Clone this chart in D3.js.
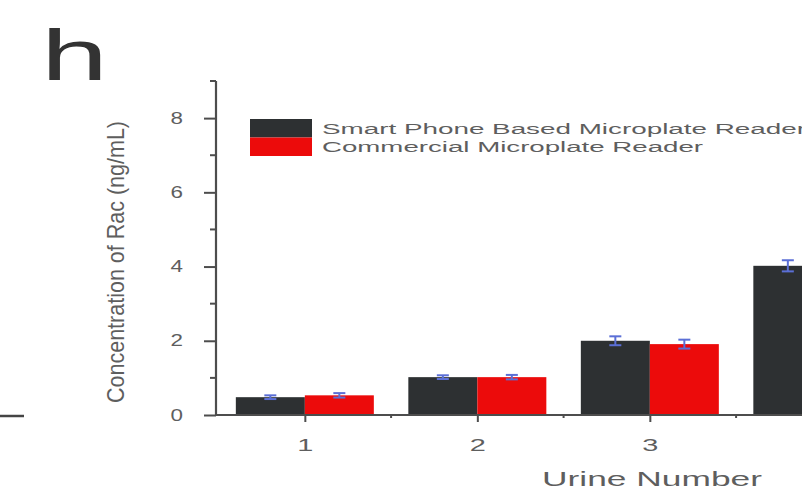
<!DOCTYPE html>
<html>
<head>
<meta charset="utf-8">
<script src="https://cdn.jsdelivr.net/npm/d3@7"></script>
<style>
  html, body { margin: 0; padding: 0; background: #fff; }
  svg { display: block; font-family: "Liberation Sans", Arial, sans-serif; }
</style>
</head>
<body>
<svg id="chart" width="802" height="490"></svg>
<script>
// Rac concentration in urine samples, two readers
const urineNumbers = [1, 2, 3, 4];
const phoneReader = [0.48, 1.02, 2.0, 4.02];
const phoneErr = [0.05, 0.05, 0.12, 0.15];
const commercialReader = [0.53, 1.02, 1.91, 4.0];
const commercialErr = [0.06, 0.06, 0.12, 0.12];
const seriesNames = ["Smart Phone Based Microplate Reader", "Commercial Microplate Reader"];
const yMajorTicks = [0, 2, 4, 6, 8];
const yMinorTicks = [1, 3, 5, 7, 9];
const xMinorTicks = [1.5, 2.5, 3.5, 4.5];

const colors = ["#2d3032", "#ec0b0b"];
const errColor = "#5b6fd6";
const axisColor = "#4d4d4d";
const textColor = "#5e5e5e";

const width = 802;
const svg = d3.select("#chart");

const originX = 216, baseY = 415;
const x = d3.scaleLinear().domain([0.485, 4.485]).range([originX, originX + 4 * 172.5]);
const y = d3.scaleLinear().domain([0, 9]).range([baseY, 81]);
const barW = x(1.4) - x(1); // width of one bar in a pair

// panel letter
svg.append("text")
  .attr("transform", "translate(41,80) scale(1.65,1)")
  .attr("font-size", 73)
  .attr("fill", "#333")
  .text("h");

// edge of the neighbouring panel's x axis
svg.append("line")
  .attr("x1", 0).attr("x2", 24)
  .attr("y1", baseY + 1).attr("y2", baseY + 1)
  .attr("stroke", "#444").attr("stroke-width", 2.5);

// bars
const series = [
  { name: seriesNames[0], values: phoneReader, errs: phoneErr, offset: -1 },
  { name: seriesNames[1], values: commercialReader, errs: commercialErr, offset: 0 }
];

series.forEach((s, si) => {
  const g = svg.append("g");
  g.selectAll("rect")
    .data(urineNumbers)
    .join("rect")
    .attr("x", (d) => x(d) + s.offset * barW)
    .attr("width", barW)
    .attr("y", (d, i) => y(s.values[i]))
    .attr("height", (d, i) => y(0) - y(s.values[i]))
    .attr("fill", colors[si]);

  // error bars
  const eb = svg.append("g")
    .attr("stroke", errColor).attr("stroke-width", 2).attr("fill", "none");
  urineNumbers.forEach((d, i) => {
    const cx = x(d) + s.offset * barW + barW / 2;
    const v = s.values[i], e = s.errs[i];
    eb.append("line").attr("x1", cx).attr("x2", cx).attr("y1", y(v + e)).attr("y2", y(v - e));
    eb.append("line").attr("x1", cx - 6).attr("x2", cx + 6).attr("y1", y(v + e)).attr("y2", y(v + e));
    eb.append("line").attr("x1", cx - 6).attr("x2", cx + 6).attr("y1", y(v - e)).attr("y2", y(v - e));
  });
});

// y axis
const yAxisG = svg.append("g").attr("transform", `translate(${originX},0)`);
yAxisG.call(d3.axisLeft(y).tickValues(yMajorTicks).tickSize(12).tickSizeOuter(0).tickFormat(d3.format("d")));
yAxisG.selectAll(".tick line").attr("stroke", axisColor).attr("stroke-width", 2);
yAxisG.selectAll(".tick text")
  .attr("x", -33 / 1.4)
  .attr("transform", "scale(1.4,1)")
  .attr("font-size", 16)
  .attr("fill", textColor)
  .attr("font-family", "Liberation Sans, Arial, sans-serif");
yAxisG.select(".domain").remove();
yAxisG.selectAll(".minor")
  .data(yMinorTicks)
  .join("line")
  .attr("x1", -6).attr("x2", 0)
  .attr("y1", (d) => y(d)).attr("y2", (d) => y(d))
  .attr("stroke", axisColor).attr("stroke-width", 2);
yAxisG.append("line")
  .attr("x1", 0).attr("x2", 0).attr("y1", y(9)).attr("y2", y(0) + 1)
  .attr("stroke", axisColor).attr("stroke-width", 2.2);

// x axis: only the categories that fall inside the drawing area get a tick
const visibleNumbers = urineNumbers.filter((d) => x(d) + 12 < width);
const xAxisG = svg.append("g").attr("transform", `translate(0,${baseY})`);
xAxisG.call(d3.axisBottom(x).tickValues(visibleNumbers).tickSize(7).tickSizeOuter(0).tickFormat(d3.format("d")));
xAxisG.select(".domain").remove();
xAxisG.selectAll(".tick line").attr("stroke", axisColor).attr("stroke-width", 2);
xAxisG.selectAll(".tick text")
  .attr("y", 0)
  .attr("dy", 0)
  .attr("transform", "translate(0,36) scale(1.7,1)")
  .attr("font-size", 17)
  .attr("fill", textColor)
  .attr("font-family", "Liberation Sans, Arial, sans-serif");
xAxisG.selectAll(".minor")
  .data(xMinorTicks.filter((d) => x(d) < width))
  .join("line")
  .attr("x1", (d) => x(d)).attr("x2", (d) => x(d))
  .attr("y1", 0).attr("y2", 3)
  .attr("stroke", axisColor).attr("stroke-width", 2);
xAxisG.append("line")
  .attr("x1", originX).attr("x2", width)
  .attr("y1", 0).attr("y2", 0)
  .attr("stroke", axisColor).attr("stroke-width", 2);

// axis titles
svg.append("text")
  .attr("x", 542).attr("y", 486)
  .attr("font-size", 21)
  .attr("fill", textColor)
  .attr("textLength", 220)
  .attr("lengthAdjust", "spacingAndGlyphs")
  .text("Urine Number");

svg.append("text")
  .attr("transform", "translate(124,262) scale(1.2,1) rotate(-90)")
  .attr("text-anchor", "middle")
  .attr("font-size", 20)
  .attr("fill", textColor)
  .attr("textLength", 282)
  .attr("lengthAdjust", "spacingAndGlyphs")
  .text("Concentration of Rac (ng/mL)");

// legend
const legendLengths = [484, 381];
const legend = svg.append("g");
seriesNames.forEach((name, i) => {
  const top = 119 + i * 18.5;
  legend.append("rect")
    .attr("x", 250).attr("y", top)
    .attr("width", 62).attr("height", 18.5)
    .attr("fill", colors[i]);
  legend.append("text")
    .attr("x", 322).attr("y", top + 14.5)
    .attr("font-size", 15.5)
    .attr("fill", textColor)
    .attr("textLength", legendLengths[i])
    .attr("lengthAdjust", "spacingAndGlyphs")
    .text(name);
});
</script>
</body>
</html>
